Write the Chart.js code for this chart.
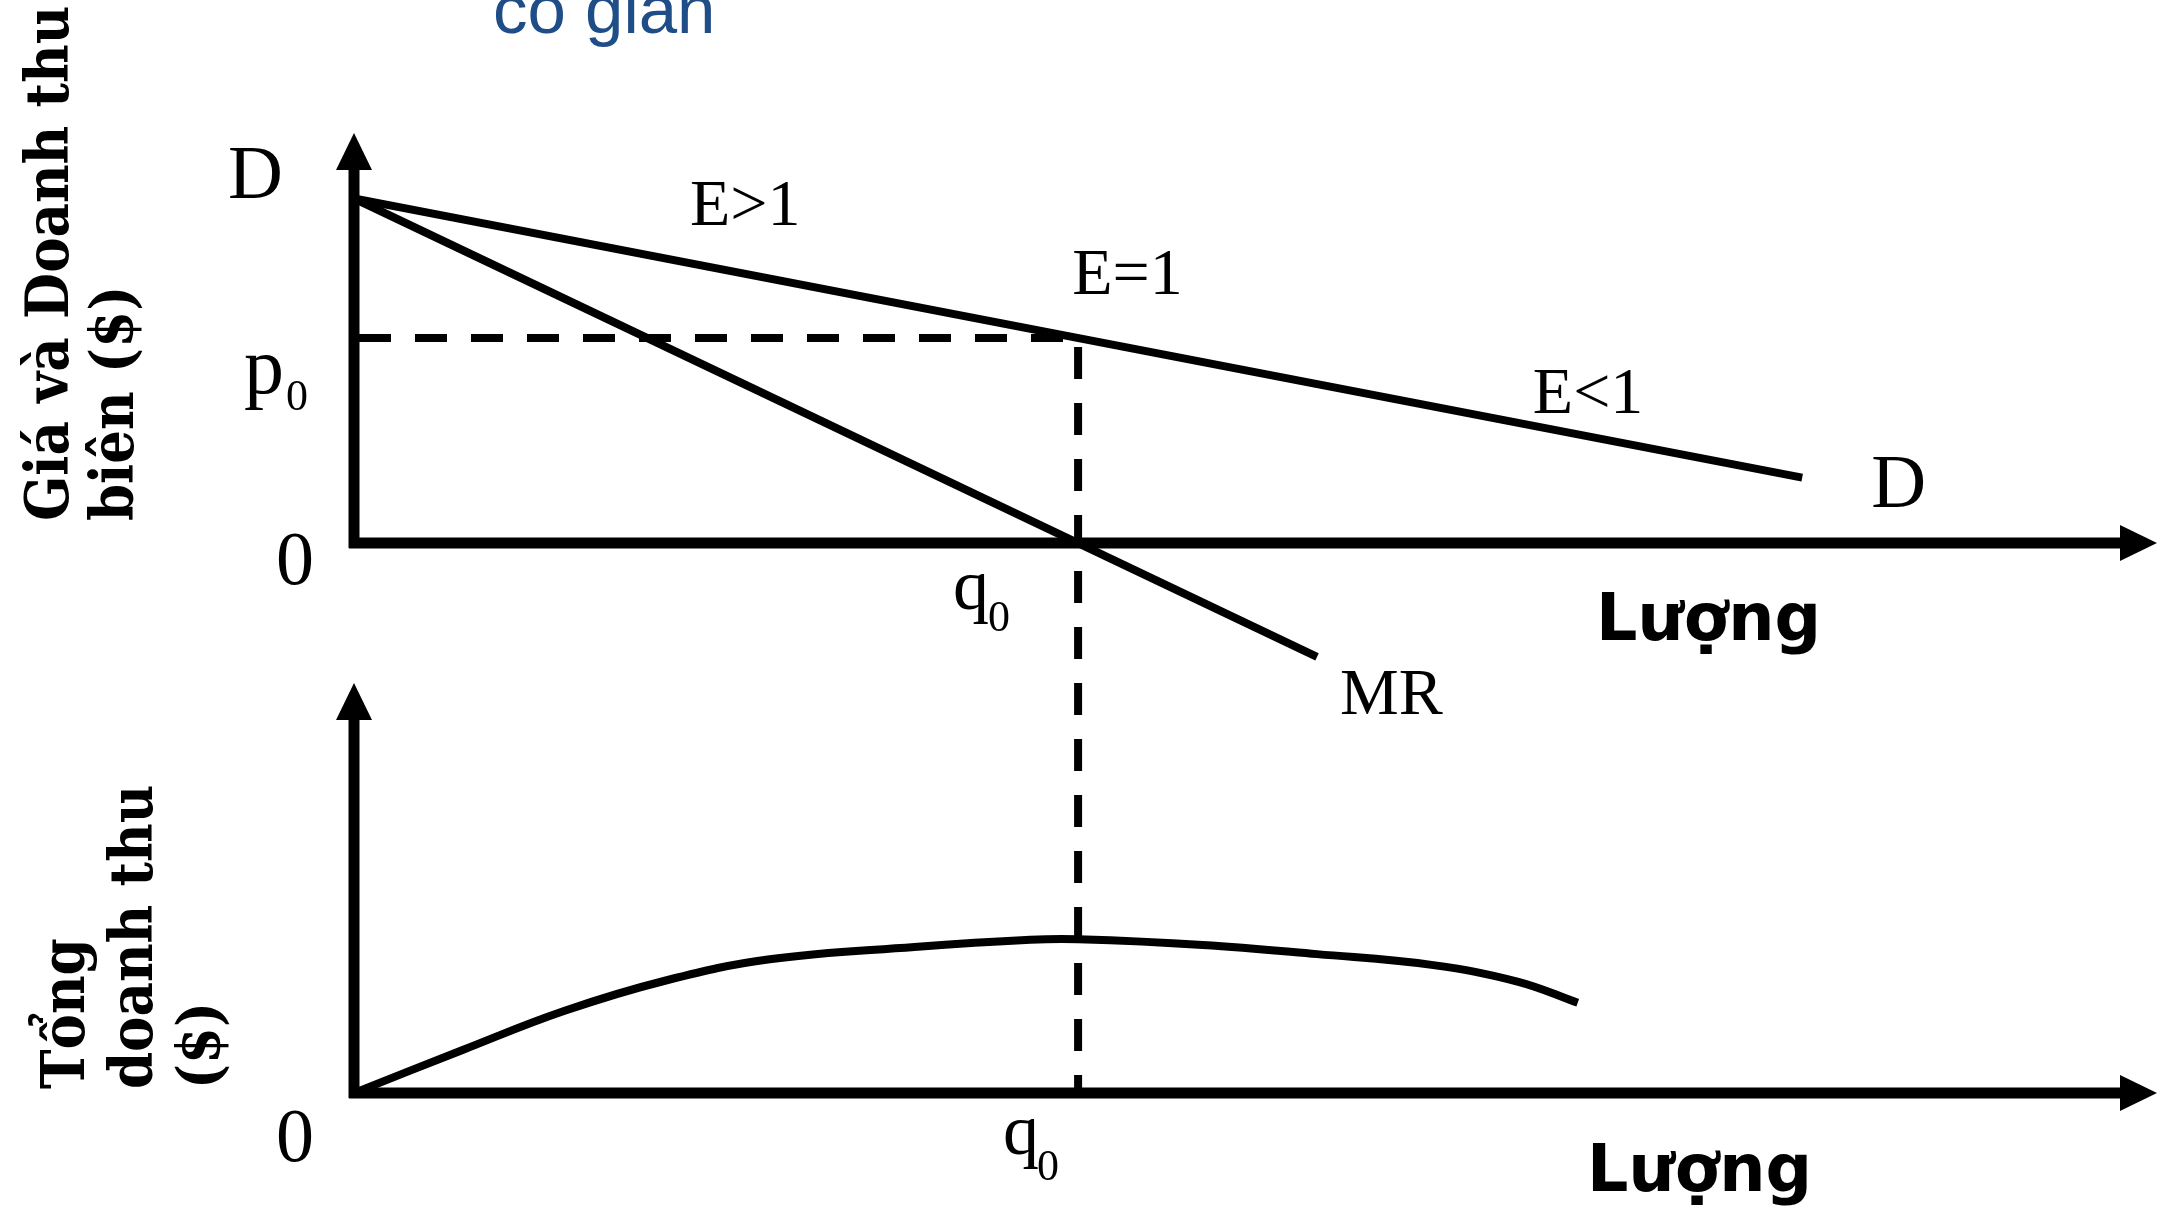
<!DOCTYPE html>
<html>
<head>
<meta charset="utf-8">
<script src="https://cdn.jsdelivr.net/npm/chart.js@4/dist/chart.umd.min.js"></script>
<style>
  html, body { margin: 0; padding: 0; background: #fff; }
  canvas { display: block; }
</style>
</head>
<body>
<canvas id="doanhThu" width="2178" height="1210"></canvas>
<script>
// duong cau D va doanh thu bien MR (do thi tren)
const demandQ = [0, 10];
const demandP = [10, 1.9];
const mrQ = [0, 6.65];
const mrP = [10, -3.3];

// diem co gian don vi
const q0 = 5;
const p0 = 5.95;

// tong doanh thu TR (do thi duoi)
const trQ = [0, 0.75, 1.45, 2.16, 2.87, 3.87, 4.67, 5, 5.86, 6.65, 7.44, 8.04, 8.45];
const trValues = [0, 8.4, 16, 22, 26.1, 28.5, 29.9, 30, 28.9, 27.1, 25, 21.7, 17.6];

// khoang cua cac truc
const qRange = [0, 12.45];
const topRange = [-4.06, 11.9];
const bottomRange = [0, 80];

const serif = '"Liberation Serif", "Times New Roman", serif';

function zip(xs, ys) {
  return xs.map((x, i) => ({ x: x, y: ys[i] }));
}

function arrow(ctx, x1, y1, x2, y2) {
  const len = 37, half = 18;
  const ang = Math.atan2(y2 - y1, x2 - x1);
  const bx = x2 - len * Math.cos(ang), by = y2 - len * Math.sin(ang);
  ctx.beginPath();
  ctx.moveTo(x1, y1);
  ctx.lineTo(bx, by);
  ctx.stroke();
  ctx.beginPath();
  ctx.moveTo(x2, y2);
  ctx.lineTo(bx + half * Math.sin(ang), by - half * Math.cos(ang));
  ctx.lineTo(bx - half * Math.sin(ang), by + half * Math.cos(ang));
  ctx.closePath();
  ctx.fill();
}

function text(ctx, str, x, y, font, align) {
  ctx.font = font;
  ctx.textAlign = align || 'left';
  ctx.fillText(str, x, y);
}

// duong dut p0 -> q0 va xuong do thi duoi
const guidePlugin = {
  id: 'guide',
  beforeDatasetsDraw(chart) {
    const { ctx, scales } = chart;
    const x = scales.x, y = scales.y, y2 = scales.y2;
    ctx.save();
    ctx.strokeStyle = '#000';
    ctx.lineWidth = 8;
    ctx.setLineDash([32, 24]);
    ctx.beginPath();
    ctx.moveTo(x.getPixelForValue(0) + 5, y.getPixelForValue(p0));
    ctx.lineTo(x.getPixelForValue(q0), y.getPixelForValue(p0));
    ctx.lineTo(x.getPixelForValue(q0), y2.getPixelForValue(0));
    ctx.stroke();
    ctx.restore();
  }
};

// truc co mui ten va cac chu thich
const axesPlugin = {
  id: 'axesArrows',
  afterDatasetsDraw(chart) {
    const { ctx, scales } = chart;
    const x = scales.x, y = scales.y, y2 = scales.y2;
    const xL = x.getPixelForValue(0);
    const xR = x.getPixelForValue(qRange[1]);
    const yTop0 = y.getPixelForValue(0);
    const yBot0 = y2.getPixelForValue(0);
    const qPx = x.getPixelForValue(q0);
    const pPx = y.getPixelForValue(p0);

    ctx.save();
    ctx.fillStyle = '#000';
    ctx.strokeStyle = '#000';
    ctx.lineWidth = 11;
    ctx.setLineDash([]);
    arrow(ctx, xL, yTop0 + 5, xL, y.getPixelForValue(topRange[1]));
    arrow(ctx, xL - 5, yTop0, xR, yTop0);
    arrow(ctx, xL, yBot0 + 5, xL, y2.getPixelForValue(bottomRange[1]));
    arrow(ctx, xL - 5, yBot0, xR, yBot0);

    ctx.textBaseline = 'alphabetic';
    // nhan do thi tren
    text(ctx, 'D', xL - 126, y.getPixelForValue(demandP[0]), '76px ' + serif);
    text(ctx, 'p', xL - 110, pPx + 55, '80px ' + serif);
    text(ctx, '0', xL - 68, pPx + 72, '44px ' + serif);
    text(ctx, '0', xL - 59, yTop0 + 41, '76px ' + serif, 'center');
    text(ctx, 'q', qPx - 125, yTop0 + 66, '72px ' + serif);
    text(ctx, '0', qPx - 90, yTop0 + 88, '44px ' + serif);
    text(ctx, 'E>1', x.getPixelForValue(2.32), y.getPixelForValue(9.23), '66px ' + serif);
    text(ctx, 'E=1', x.getPixelForValue(4.96), y.getPixelForValue(7.23), '66px ' + serif);
    text(ctx, 'E<1', x.getPixelForValue(8.14), y.getPixelForValue(3.77), '66px ' + serif);
    text(ctx, 'D', x.getPixelForValue(demandQ[1]) + 69, y.getPixelForValue(demandP[1]) + 29, '76px ' + serif);
    text(ctx, 'MR', x.getPixelForValue(mrQ[1]) + 23, y.getPixelForValue(mrP[1]) + 57, '66px ' + serif);
    text(ctx, 'Lượng', xL + 1242, yTop0 + 97, 'bold 65px "DejaVu Sans"');

    // nhan do thi duoi
    text(ctx, '0', xL - 59, yBot0 + 68, '76px ' + serif, 'center');
    text(ctx, 'q', qPx - 75, yBot0 + 61, '72px ' + serif);
    text(ctx, '0', qPx - 41, yBot0 + 87, '44px ' + serif);
    text(ctx, 'Lượng', xL + 1233, yBot0 + 98, 'bold 65px "DejaVu Sans"');

    // tieu de truc tung (xoay doc)
    const titleFont = 'bold 59px "DejaVu Serif Condensed", "DejaVu Serif"';
    ctx.save();
    ctx.translate(68, 521);
    ctx.rotate(-Math.PI / 2);
    text(ctx, 'Giá và Doanh thu', 0, 0, titleFont);
    text(ctx, 'biên ($)', 0, 65, titleFont);
    ctx.restore();

    ctx.save();
    ctx.translate(84, 1089);
    ctx.rotate(-Math.PI / 2);
    text(ctx, 'Tổng', 0, 0, titleFont);
    text(ctx, 'doanh thu', 0, 68, titleFont);
    text(ctx, '($)', 0, 136, titleFont);
    ctx.restore();

    // dong tieu de bi cat o mep tren
    ctx.fillStyle = '#1f4d87';
    text(ctx, 'co giãn', 493, 33, '69px "Liberation Sans", Arial, sans-serif');
    ctx.restore();
  }
};

const lineStyle = {
  showLine: true,
  borderColor: '#000',
  backgroundColor: '#000',
  borderWidth: 8,
  pointRadius: 0,
  fill: false
};

new Chart(document.getElementById('doanhThu'), {
  type: 'scatter',
  data: {
    datasets: [
      Object.assign({ label: 'D', data: zip(demandQ, demandP), yAxisID: 'y' }, lineStyle),
      Object.assign({ label: 'MR', data: zip(mrQ, mrP), yAxisID: 'y' }, lineStyle),
      Object.assign({ label: 'TR', data: zip(trQ, trValues), yAxisID: 'y2', tension: 0.4 }, lineStyle)
    ]
  },
  options: {
    responsive: false,
    animation: false,
    devicePixelRatio: 1,
    layout: { padding: { top: 133, left: 354, right: 21, bottom: 117 } },
    plugins: { legend: { display: false }, tooltip: { enabled: false } },
    scales: {
      x: { type: 'linear', min: qRange[0], max: qRange[1], display: false },
      y: {
        type: 'linear', position: 'left', stack: 'panels', stackWeight: 550, weight: 2,
        min: topRange[0], max: topRange[1], display: false
      },
      y2: {
        type: 'linear', position: 'left', stack: 'panels', stackWeight: 410, weight: 1,
        min: bottomRange[0], max: bottomRange[1], display: false
      }
    }
  },
  plugins: [guidePlugin, axesPlugin]
});
</script>
</body>
</html>
